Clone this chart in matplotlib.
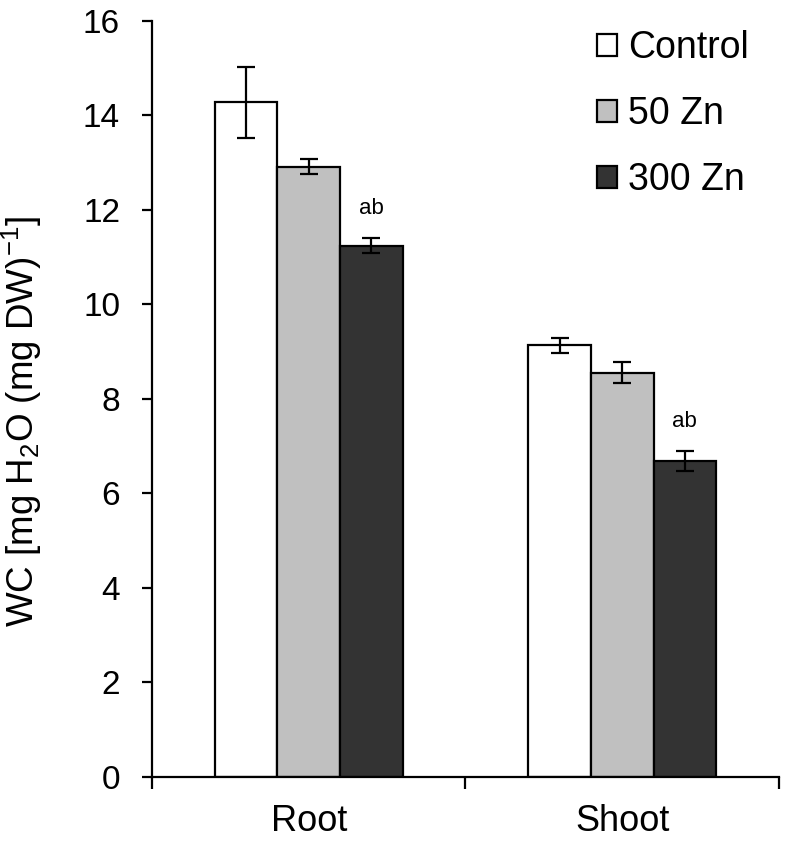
import matplotlib
matplotlib.use("Agg")
import matplotlib.pyplot as plt
from matplotlib.patches import Patch
import numpy as np

plt.rcParams['font.family'] = ['Liberation Sans', 'DejaVu Sans']
plt.rcParams['mathtext.default'] = 'regular'

# data
tissues = ['Root', 'Shoot']
treatments = ['Control', '50 Zn', '300 Zn']
colors = ['#FFFFFF', '#C0C0C0', '#333333']
means = {
    'Control': [14.27, 9.13],
    '50 Zn': [12.91, 8.55],
    '300 Zn': [11.24, 6.68],
}
errors = {
    'Control': [0.75, 0.16],
    '50 Zn': [0.16, 0.22],
    '300 Zn': [0.16, 0.21],
}
# significance letters above the 300 Zn bars
letters = ['ab', 'ab']
letter_y = [12.03, 7.51]

fig = plt.figure(figsize=(7.86, 8.41), dpi=100)
ax = fig.add_axes([0.1934, 0.0765, 0.7976, 0.899])

x = np.arange(len(tissues))
width = 0.2
for i, t in enumerate(treatments):
    pos = x + (i - 1) * width
    ax.bar(pos, means[t], width, color=colors[i], edgecolor='black', linewidth=1.6, zorder=2)
    ax.errorbar(pos, means[t], yerr=errors[t], fmt='none', ecolor='black',
                elinewidth=1.6, capsize=6.5, capthick=1.6, zorder=3)

for j, lab in enumerate(letters):
    ax.text(x[j] + width, letter_y[j], lab, ha='center', va='center', fontsize=16)

ax.set_xlim(-0.5, 1.5)
ax.set_ylim(0, 16)
ax.set_yticks(np.arange(0, 17, 2))
ax.set_xticks(x)
ax.set_xticklabels(tissues)
ax.set_xticks([-0.5, 0.5, 1.5], minor=True)
ax.tick_params(axis='x', which='major', length=0, pad=20, labelsize=26)
ax.tick_params(axis='x', which='minor', length=8.5, width=1.6)
ax.tick_params(axis='y', length=7, width=1.6, pad=16, labelsize=24)

for s in ['top', 'right']:
    ax.spines[s].set_visible(False)
for s in ['left', 'bottom']:
    ax.spines[s].set_linewidth(1.6)

ax.set_ylabel('WC [mg H$_2$O (mg DW)$^{-1}$]', fontsize=26.5)
ax.yaxis.set_label_coords(-0.172, 0.47)

handles = [Patch(facecolor=colors[i], edgecolor='black', linewidth=1.6, label=t)
           for i, t in enumerate(treatments)]
ax.legend(handles=handles, loc='upper right', bbox_to_anchor=(1.0, 1.027), frameon=False,
          fontsize=27, handlelength=0.52, handleheight=0.52, handletextpad=0.3,
          labelspacing=0.8, borderaxespad=0.4)

fig.savefig('out.png', dpi=100)
